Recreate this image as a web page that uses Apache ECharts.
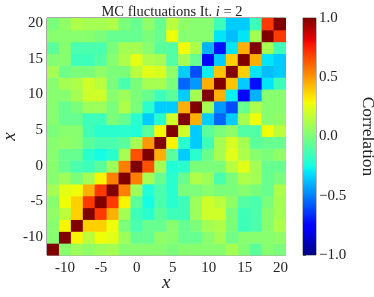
<!DOCTYPE html>
<html><head><meta charset="utf-8">
<script src="https://cdn.jsdelivr.net/npm/echarts@6/dist/echarts.min.js"></script>
<style>html,body{margin:0;padding:0;background:#fff;}#c{width:374px;height:297px;}</style>
</head><body><div id="c"></div>
<script>
const xCenters = [-11.67, -10.01, -8.35, -6.69, -5.04, -3.38, -1.72, -0.06, 1.60, 3.26, 4.92, 6.58, 8.24, 9.90, 11.56, 13.21, 14.87, 16.53, 18.19, 19.85];
const yCenters = [-11.67, -10.01, -8.35, -6.69, -5.04, -3.38, -1.72, -0.06, 1.60, 3.26, 4.92, 6.58, 8.24, 9.90, 11.56, 13.21, 14.87, 16.53, 18.19, 19.85];
const tickValues = [-10, -5, 0, 5, 10, 15, 20];
const cbarTicks = [-1, -0.5, 0, 0.5, 1];

// correlation rows, y index 0 (bottom) .. 19 (top); each row x index 0..19
const row00 = [1, 0.03, 0.08, 0.05, 0.08, 0.1, 0.03, 0.03, 0.03, 0.03, 0.0, 0.03, 0.03, 0.03, 0.03, 0.1, 0.02, -0.08, 0.03, 0.0];
const row01 = [0.03, 1, 0.3, 0.15, 0.28, 0.25, 0.08, -0.05, -0.05, 0.05, 0.03, -0.05, -0.05, 0.03, 0.1, -0.03, 0.03, 0.03, 0.03, 0.05];
const row02 = [0.03, 0.3, 1, 0.38, 0.38, 0.28, 0.0, -0.12, -0.05, -0.05, 0.03, -0.05, 0.0, 0.1, 0.12, 0.0, -0.15, -0.12, 0.03, 0.12];
const row03 = [0.05, 0.15, 0.38, 1, 0.7, 0.45, 0.1, -0.15, -0.2, -0.08, -0.15, -0.15, 0.08, 0.2, 0.2, 0.0, -0.15, -0.12, 0.03, 0.1];
const row04 = [0.03, 0.28, 0.38, 0.7, 1, 0.7, 0.3, -0.08, -0.25, -0.12, -0.2, -0.15, 0.08, 0.2, 0.15, 0.05, -0.1, -0.12, 0.0, 0.1];
const row05 = [0.1, 0.25, 0.28, 0.45, 0.7, 1, 0.55, 0.08, -0.22, -0.12, -0.2, 0.0, 0.0, 0.03, 0.0, 0.0, 0.03, 0.0, -0.05, 0.12];
const row06 = [0.03, 0.08, 0.0, 0.1, 0.3, 0.55, 1, 0.55, 0.1, -0.05, -0.2, -0.05, 0.12, 0.08, -0.12, 0.0, 0.12, 0.1, -0.05, 0.0];
const row07 = [0.03, -0.05, -0.12, -0.15, -0.08, 0.08, 0.55, 1, 0.65, 0.1, -0.22, -0.2, 0.0, 0.0, 0.0, 0.15, 0.25, 0.1, -0.05, -0.05];
const row08 = [0.03, -0.05, -0.05, -0.2, -0.25, -0.2, 0.1, 0.65, 1, 0.45, -0.08, -0.35, -0.2, -0.05, 0.1, 0.25, 0.12, 0.03, 0.0, 0.05];
const row09 = [0.03, 0.05, 0.03, -0.08, -0.12, -0.12, -0.08, 0.1, 0.5, 1, 0.3, -0.2, -0.35, -0.15, 0.1, 0.22, 0.1, -0.08, -0.05, -0.05];
const row10 = [0.0, 0.03, 0.03, -0.15, -0.2, -0.2, -0.2, -0.22, -0.08, 0.3, 1, 0.2, -0.35, -0.08, 0.0, 0.05, -0.1, -0.1, 0.28, 0.15];
const row11 = [0.03, -0.05, -0.05, -0.15, -0.15, 0.0, -0.05, -0.2, -0.35, -0.2, 0.2, 1, 0.45, -0.35, -0.55, -0.35, 0.1, 0.28, 0.03, 0.05];
const row12 = [0.03, -0.05, 0.0, 0.08, 0.08, 0.0, 0.12, 0.0, -0.2, -0.35, -0.35, 0.45, 1, 0.1, -0.45, -0.6, -0.05, 0.12, 0.03, 0.03];
const row13 = [0.03, 0.03, 0.1, 0.2, 0.2, 0.03, 0.08, 0.0, -0.05, -0.15, -0.08, -0.35, 0.1, 1, 0.45, -0.28, -0.75, -0.4, 0.03, 0.03];
const row14 = [0.03, 0.1, 0.12, 0.2, 0.15, 0.0, -0.12, 0.0, 0.1, 0.1, 0.0, -0.55, -0.45, 0.45, 1, 0.4, -0.35, -0.72, -0.3, -0.15];
const row15 = [0.1, -0.03, 0.0, 0.0, 0.05, 0.0, 0.0, 0.15, 0.25, 0.22, 0.05, -0.35, -0.6, -0.28, 0.4, 1, 0.38, -0.3, -0.38, -0.35];
const row16 = [0.02, 0.03, -0.15, -0.15, -0.1, 0.03, 0.12, 0.25, 0.12, 0.1, -0.1, 0.1, -0.05, -0.75, -0.35, 0.38, 1, 0.45, -0.3, -0.35];
const row17 = [-0.08, 0.03, -0.12, -0.12, -0.12, 0.0, 0.1, 0.1, 0.03, -0.08, -0.1, 0.28, 0.12, -0.4, -0.72, -0.3, 0.45, 1, 0.1, -0.15];
const row18 = [0.03, 0.03, 0.03, 0.03, 0.0, -0.05, -0.05, -0.05, 0.0, -0.05, 0.28, 0.03, 0.03, 0.03, -0.3, -0.38, -0.3, 0.1, 1, 0.7];
const row19 = [0.0, 0.05, 0.12, 0.1, 0.1, 0.12, 0.0, -0.05, 0.05, -0.05, 0.15, 0.05, 0.03, 0.03, -0.15, -0.35, -0.35, -0.15, 0.7, 1];
const rows = [row00,row01,row02,row03,row04,row05,row06,row07,row08,row09,row10,row11,row12,row13,row14,row15,row16,row17,row18,row19];

// matplotlib "jet" colormap segment definitions
const jetR = [[0, 0], [0.35, 0], [0.66, 1], [0.89, 1], [1, 0.5]];
const jetG = [[0, 0], [0.125, 0], [0.375, 1], [0.64, 1], [0.91, 0], [1, 0]];
const jetB = [[0, 0.5], [0.11, 1], [0.34, 1], [0.65, 0], [1, 0]];
function seg(s, t) {
  for (let i = 1; i < s.length; i++) {
    if (t <= s[i][0]) { const a = s[i - 1], b = s[i]; return a[1] + (b[1] - a[1]) * (t - a[0]) / (b[0] - a[0]); }
  }
  return s[s.length - 1][1];
}
function jetColor(t) {
  const h = v => Math.round(v * 255);
  return 'rgb(' + h(seg(jetR, t)) + ',' + h(seg(jetG, t)) + ',' + h(seg(jetB, t)) + ')';
}
const NSTOP = 101;
const jet = [];
for (let k = 0; k < NSTOP; k++) jet.push(jetColor(k / (NSTOP - 1)));

const data = [];
rows.forEach((r, yi) => r.forEach((v, xi) => data.push([xCenters[xi], yCenters[yi], v])));
const cellW = xCenters[1] - xCenters[0];
const cellH = yCenters[1] - yCenters[0];

const serif = 'Liberation Serif';
const chart = echarts.init(document.getElementById('c'), null, {renderer: 'canvas'});
const fmtCb = v => (v < 0 ? '\u2212' : '') + Math.abs(v).toFixed(1);

chart.setOption({
  animation: false,
  title: {
    text: 'MC fluctuations It. {i|i} = 2',
    left: 167, top: 0, textAlign: 'center',
    textStyle: {fontFamily: serif, fontSize: 14.5, fontWeight: 'normal', color: '#222',
      rich: {i: {fontFamily: serif, fontSize: 14.5, fontStyle: 'italic', color: '#222'}}}
  },
  grid: [
    {left: 47, top: 18, width: 238.5, height: 237, show: true, borderColor: '#555', borderWidth: 1,
      backgroundColor: 'transparent', containLabel: false, outerBoundsMode: 'none'},
    {left: 303, top: 18, width: 13, height: 237, show: true, borderColor: '#777', borderWidth: 1,
      containLabel: false, outerBoundsMode: 'none'}
  ],
  visualMap: {show: false, type: 'continuous', min: -1, max: 1, dimension: 2, seriesIndex: 0, inRange: {color: jet}},
  xAxis: [
    {gridIndex: 0, type: 'value', min: -12.5, max: 20.68,
      name: 'x', nameLocation: 'middle', nameGap: 18, nameMoveOverlap: false,
      nameTextStyle: {fontFamily: serif, fontStyle: 'italic', fontSize: 19, color: '#222'},
      axisLine: {show: false}, splitLine: {show: false},
      axisTick: {show: true, customValues: tickValues, length: 3, lineStyle: {color: '#444'}},
      axisLabel: {customValues: tickValues, fontFamily: serif, fontSize: 15, color: '#222', margin: 6}},
    {gridIndex: 1, type: 'value', min: 0, max: 1, show: false}
  ],
  yAxis: [
    {gridIndex: 0, type: 'value', min: -12.5, max: 20.68,
      name: 'x', nameLocation: 'middle', nameGap: 28, nameRotate: 90, nameMoveOverlap: false,
      nameTextStyle: {fontFamily: serif, fontStyle: 'italic', fontSize: 19, color: '#222'},
      axisLine: {show: false}, splitLine: {show: false},
      axisTick: {show: true, customValues: tickValues, length: 3, lineStyle: {color: '#444'}},
      axisLabel: {customValues: tickValues, fontFamily: serif, fontSize: 15, color: '#222', margin: 4}},
    {gridIndex: 1, type: 'value', min: -1, max: 1, position: 'right',
      name: 'Correlation', nameLocation: 'middle', nameGap: 43, nameRotate: -90, nameMoveOverlap: false,
      nameTextStyle: {fontFamily: serif, fontSize: 17.5, color: '#222'},
      axisLine: {show: false}, splitLine: {show: false},
      axisTick: {show: true, customValues: cbarTicks, length: 3, lineStyle: {color: '#555'}},
      axisLabel: {customValues: cbarTicks, formatter: fmtCb, fontFamily: serif, fontSize: 15, color: '#222', margin: 3}}
  ],
  series: [
    {type: 'custom', xAxisIndex: 0, yAxisIndex: 0, data: data, encode: {x: 0, y: 1},
      renderItem: function (params, api) {
        const x = api.value(0), y = api.value(1);
        const p0 = api.coord([x - cellW / 2, y + cellH / 2]);
        const p1 = api.coord([x + cellW / 2, y - cellH / 2]);
        return {type: 'rect', shape: {x: p0[0], y: p0[1], width: p1[0] - p0[0] + 0.5, height: p1[1] - p0[1] + 0.5},
          style: {fill: api.visual('color')}};
      }, z: 1},
    {type: 'custom', xAxisIndex: 1, yAxisIndex: 1, data: [[0, -1, 1]], encode: {x: 0, y: 1},
      renderItem: function (params, api) {
        const p0 = api.coord([0, 1]);
        const p1 = api.coord([1, -1]);
        return {type: 'rect', shape: {x: p0[0], y: p0[1], width: p1[0] - p0[0], height: p1[1] - p0[1]},
          style: {fill: new echarts.graphic.LinearGradient(0, 1, 0, 0,
            jet.map((c, i) => ({offset: i / (jet.length - 1), color: c})))}};
      }, z: 1}
  ]
});
</script></body></html>
